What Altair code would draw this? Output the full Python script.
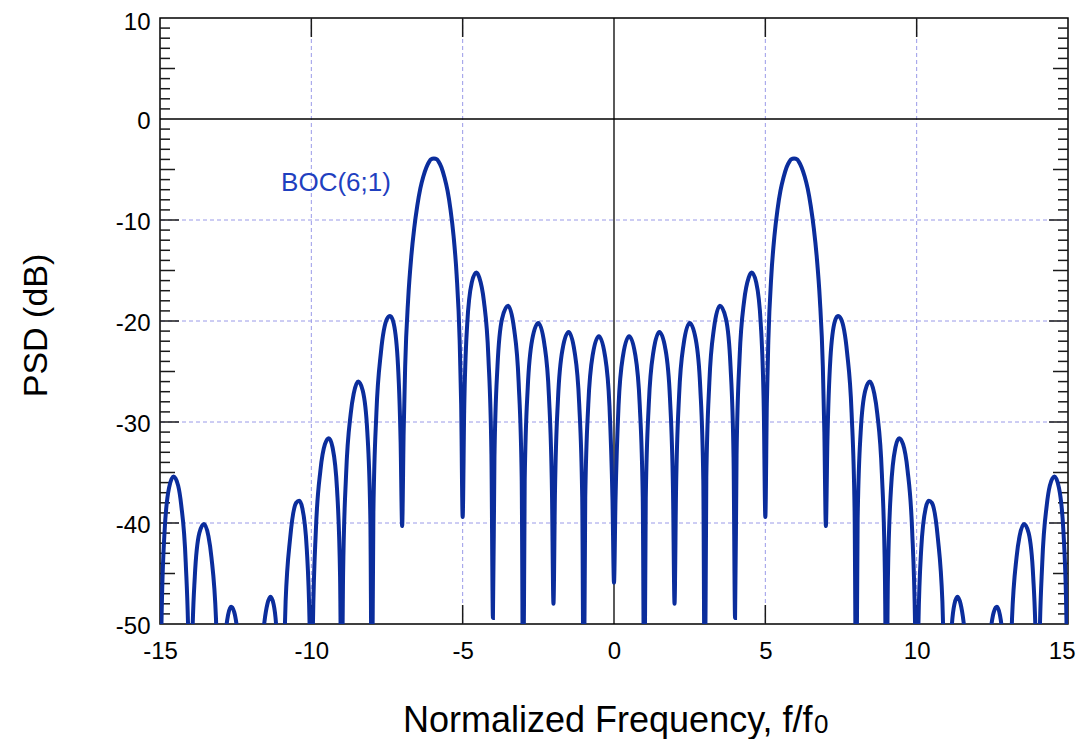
import altair as alt
import pandas as pd

# ---- curve data, right half, left half, centre ----
freq_right = [0.05, 0.15, 0.3, 0.5, 0.7, 0.85, 0.95, 1,
              1.05, 1.15, 1.3, 1.5, 1.7, 1.85, 1.95, 2,
              2.05, 2.15, 2.3, 2.5, 2.7, 2.85, 2.95, 3,
              3.05, 3.15, 3.3, 3.5, 3.7, 3.85, 3.95, 4,
              4.05, 4.15, 4.3, 4.45, 4.55, 4.7, 4.85, 4.95, 5,
              5.05, 5.1, 5.2, 5.3, 5.4, 5.5, 5.6, 5.7, 5.8, 5.85, 5.95, 6.05, 6.1, 6.2, 6.3, 6.4, 6.5, 6.6, 6.7, 6.8, 6.9, 6.95, 7,
              7.05, 7.15, 7.3, 7.4, 7.5, 7.7, 7.85, 7.95, 8,
              8.05, 8.15, 8.3, 8.45, 8.6, 8.7, 8.85, 8.95, 9,
              9.05, 9.15, 9.3, 9.42, 9.55, 9.7, 9.85, 9.95, 10,
              10.05, 10.15, 10.3, 10.4, 10.5, 10.7, 10.85, 10.95, 11,
              11.05, 11.15, 11.25, 11.35, 11.45, 11.55, 11.65, 12,
              12.35, 12.45, 12.55, 12.65, 12.75, 12.85, 12.95, 13,
              13.05, 13.15, 13.3, 13.4, 13.55, 13.7, 13.85, 13.95, 14,
              14.05, 14.15, 14.3, 14.4, 14.55, 14.7, 14.85, 14.95, 15]
psd_right = [-37.7, -28.4, -23.4, -21.5, -23.3, -28.3, -37.5, -60,
             -37.5, -28.2, -23.1, -21.1, -22.8, -27.7, -36.9, -48.0,
             -36.8, -27.4, -22.3, -20.2, -21.8, -26.6, -35.7, -60,
             -35.5, -26.1, -20.8, -18.5, -19.8, -24.5, -33.5, -49.4,
             -33.2, -23.6, -18.0, -15.7, -15.2, -16.2, -20.3, -28.9, -39.4,
             -28.2, -21.9, -15.4, -11.6, -9.0, -7.1, -5.8, -4.8, -4.2, -4.0, -3.9, -4.0, -4.2, -4.8, -5.7, -6.9, -8.6, -10.8, -13.7, -17.8, -24.5, -31.0, -40.3,
             -32.0, -23.7, -20.0, -19.5, -19.8, -23.1, -29.1, -39.0, -60,
             -39.6, -31.0, -26.9, -26.0, -27.2, -29.2, -35.1, -44.9, -60,
             -45.4, -36.7, -32.5, -31.6, -32.2, -34.8, -40.7, -50.5, -62,
             -51.2, -42.6, -38.5, -37.8, -38.0, -41.5, -47.8, -57.9, -65,
             -58.8, -50.7, -48.0, -47.3, -48.0, -49.8, -53.0, -70,
             -53.5, -50.5, -48.8, -48.3, -49.1, -51.9, -60.2, -65,
             -59.4, -49.5, -43.4, -41.3, -40.1, -41.0, -45.3, -54.0, -65,
             -53.5, -43.9, -38.2, -36.3, -35.4, -36.5, -40.9, -49.8, -65]

freq_left = [-0.05, -0.15, -0.3, -0.5, -0.7, -0.85, -0.95, -1,
             -1.05, -1.15, -1.3, -1.5, -1.7, -1.85, -1.95, -2,
             -2.05, -2.15, -2.3, -2.5, -2.7, -2.85, -2.95, -3,
             -3.05, -3.15, -3.3, -3.5, -3.7, -3.85, -3.95, -4,
             -4.05, -4.15, -4.3, -4.45, -4.55, -4.7, -4.85, -4.95, -5,
             -5.05, -5.1, -5.2, -5.3, -5.4, -5.5, -5.6, -5.7, -5.8, -5.85, -5.95, -6.05, -6.1, -6.2, -6.3, -6.4, -6.5, -6.6, -6.7, -6.8, -6.9, -6.95, -7,
             -7.05, -7.15, -7.3, -7.4, -7.5, -7.7, -7.85, -7.95, -8,
             -8.05, -8.15, -8.3, -8.45, -8.6, -8.7, -8.85, -8.95, -9,
             -9.05, -9.15, -9.3, -9.42, -9.55, -9.7, -9.85, -9.95, -10,
             -10.05, -10.15, -10.3, -10.4, -10.5, -10.7, -10.85, -10.95, -11,
             -11.05, -11.15, -11.25, -11.35, -11.45, -11.55, -11.65, -12,
             -12.35, -12.45, -12.55, -12.65, -12.75, -12.85, -12.95, -13,
             -13.05, -13.15, -13.3, -13.4, -13.55, -13.7, -13.85, -13.95, -14,
             -14.05, -14.15, -14.3, -14.4, -14.55, -14.7, -14.85, -14.95, -15]
psd_left = [-37.7, -28.4, -23.4, -21.5, -23.3, -28.3, -37.5, -60,
            -37.5, -28.2, -23.1, -21.1, -22.8, -27.7, -36.9, -48.0,
            -36.8, -27.4, -22.3, -20.2, -21.8, -26.6, -35.7, -60,
            -35.5, -26.1, -20.8, -18.5, -19.8, -24.5, -33.5, -49.4,
            -33.2, -23.6, -18.0, -15.7, -15.2, -16.2, -20.3, -28.9, -39.4,
            -28.2, -21.9, -15.4, -11.6, -9.0, -7.1, -5.8, -4.8, -4.2, -4.0, -3.9, -4.0, -4.2, -4.8, -5.7, -6.9, -8.6, -10.8, -13.7, -17.8, -24.5, -31.0, -40.3,
            -32.0, -23.7, -20.0, -19.5, -19.8, -23.1, -29.1, -39.0, -60,
            -39.6, -31.0, -26.9, -26.0, -27.2, -29.2, -35.1, -44.9, -60,
            -45.4, -36.7, -32.5, -31.6, -32.2, -34.8, -40.7, -50.5, -62,
            -51.2, -42.6, -38.5, -37.8, -38.0, -41.5, -47.8, -57.9, -65,
            -58.8, -50.7, -48.0, -47.3, -48.0, -49.8, -53.0, -70,
            -53.5, -50.5, -48.8, -48.3, -49.1, -51.9, -60.2, -65,
            -59.4, -49.5, -43.4, -41.3, -40.1, -41.0, -45.3, -54.0, -65,
            -53.5, -43.9, -38.2, -36.3, -35.4, -36.5, -40.9, -49.8, -65]

freq_centre = [0.0]
psd_centre = [-45.9]

# ---- axes, grid, ticks, annotation ----
x_tick_values = [-15, -10, -5, 0, 5, 10, 15]
y_tick_values = [-50, -40, -30, -20, -10, 0, 10]
grid_x = [-10, -5, 5, 10]
grid_y = [-40, -30, -20, -10]
x_major_ticks = [-10, -5, 5, 10]
y_major_ticks = [-40, -30, -20, -10]
y_mid_ticks = [-45, -35, -25, -15, -5, 5]
y_minor_ticks = [v for v in range(-49, 10) if v % 5 != 0]
zero_line = [0]
label_text = ["BOC(6;1)"]
label_x = [-11.0]
label_y = [-6.3]
subscript_text = ["0"]

FONT = "Liberation Sans"
W, H = 908, 606
CURVE = "#0b2d9c"
GRID = "#9a9ae8"
TICK = "#1a1a1a"

xs = alt.Scale(domain=[-15, 15], nice=False, zero=False)
ys = alt.Scale(domain=[-50, 10], nice=False, zero=False)

x_axis = alt.Axis(values=x_tick_values, title="Normalized Frequency, f/f", grid=False, ticks=False,
                  domain=False, labelFont=FONT, labelFontSize=24, labelColor="black", labelPadding=15,
                  labelFlush=False, labelOverlap=False, labelExpr="datum.value + ''",
                  labelAlign=alt.condition("datum.value == 15", alt.value("right"), alt.value("center")),
                  labelOffset=alt.condition("datum.value == 15", alt.value(7), alt.value(0)),
                  titleFont=FONT, titleFontSize=36,
                  titleFontWeight="normal", titleColor="black", titleAlign="right",
                  titleBaseline="alphabetic", titleX=652, titleY=107)
y_axis = alt.Axis(values=y_tick_values, title="PSD (dB)", grid=False, ticks=False, domain=False,
                  labelFont=FONT, labelFontSize=24, labelColor="black", labelPadding=10,
                  labelFlush=False, labelOverlap=False,
                  labelOffset=alt.condition("datum.value == 10", alt.value(4), alt.value(2)),
                  labelExpr="datum.value + ''",
                  titleFont=FONT, titleFontSize=34,
                  titleFontWeight="normal", titleColor="black", titleAngle=270,
                  titleAlign="center", titleBaseline="middle", titleX=-124, titleY=307)


def X(field):
    return alt.X(f"{field}:Q", scale=xs, axis=x_axis)


def Y(field):
    return alt.Y(f"{field}:Q", scale=ys, axis=y_axis)


curve_df = pd.DataFrame({"f": freq_left + freq_centre + freq_right,
                         "p": psd_left + psd_centre + psd_right})

grid_v = alt.Chart(pd.DataFrame({"g": grid_x})).mark_rule(
    color=GRID, strokeWidth=1, strokeDash=[4, 3]).encode(x=X("g"))
grid_h = alt.Chart(pd.DataFrame({"g": grid_y})).mark_rule(
    color=GRID, strokeWidth=1, strokeDash=[4, 3]).encode(y=Y("g"))

zero_v = alt.Chart(pd.DataFrame({"z": zero_line})).mark_rule(
    color="black", strokeWidth=1.3).encode(x=X("z"))
zero_h = alt.Chart(pd.DataFrame({"z": zero_line})).mark_rule(
    color="black", strokeWidth=1.3).encode(y=Y("z"))


def y_ticks(values, length):
    d = pd.DataFrame({"v": values})
    left = alt.Chart(d).mark_rule(color=TICK, strokeWidth=1.5).encode(
        y=Y("v"), x=alt.value(0), x2=alt.value(length))
    right = alt.Chart(d).mark_rule(color=TICK, strokeWidth=1.5).encode(
        y=Y("v"), x=alt.value(W), x2=alt.value(W - length))
    return [left, right]


def x_ticks(values, length):
    d = pd.DataFrame({"v": values})
    top = alt.Chart(d).mark_rule(color=TICK, strokeWidth=1.5).encode(
        x=X("v"), y=alt.value(0), y2=alt.value(length))
    bottom = alt.Chart(d).mark_rule(color=TICK, strokeWidth=1.5).encode(
        x=X("v"), y=alt.value(H), y2=alt.value(H - length))
    return [top, bottom]


tick_layers = (y_ticks(y_minor_ticks, 10) + y_ticks(y_mid_ticks, 15) +
               y_ticks(y_major_ticks, 19) + x_ticks(x_major_ticks, 19))

curve = alt.Chart(curve_df).mark_line(
    color=CURVE, strokeWidth=4, interpolate="monotone", clip=True
).encode(x=X("f"), y=Y("p"))

annot = alt.Chart(pd.DataFrame({"t": label_text, "x": label_x, "y": label_y})).mark_text(
    font=FONT, fontSize=26, color="#1f3fbf", align="left", baseline="middle"
).encode(x=X("x"), y=Y("y"), text="t:N")

subscript = alt.Chart(pd.DataFrame({"s": subscript_text})).mark_text(
    font=FONT, fontSize=26, color="black", align="left", baseline="alphabetic"
).encode(x=alt.value(654), y=alt.value(715), text="s:N")

chart = alt.layer(
    grid_v, grid_h, zero_v, zero_h, *tick_layers, curve, annot, subscript
).properties(
    width=W, height=H,
    autosize=alt.AutoSizeParams(type="none"),
    padding={"left": 152, "top": 10, "right": 8, "bottom": 125},
).configure_view(stroke="black", strokeWidth=1.5)

chart.save("out.html", embed_options={"renderer": "svg", "actions": False})
